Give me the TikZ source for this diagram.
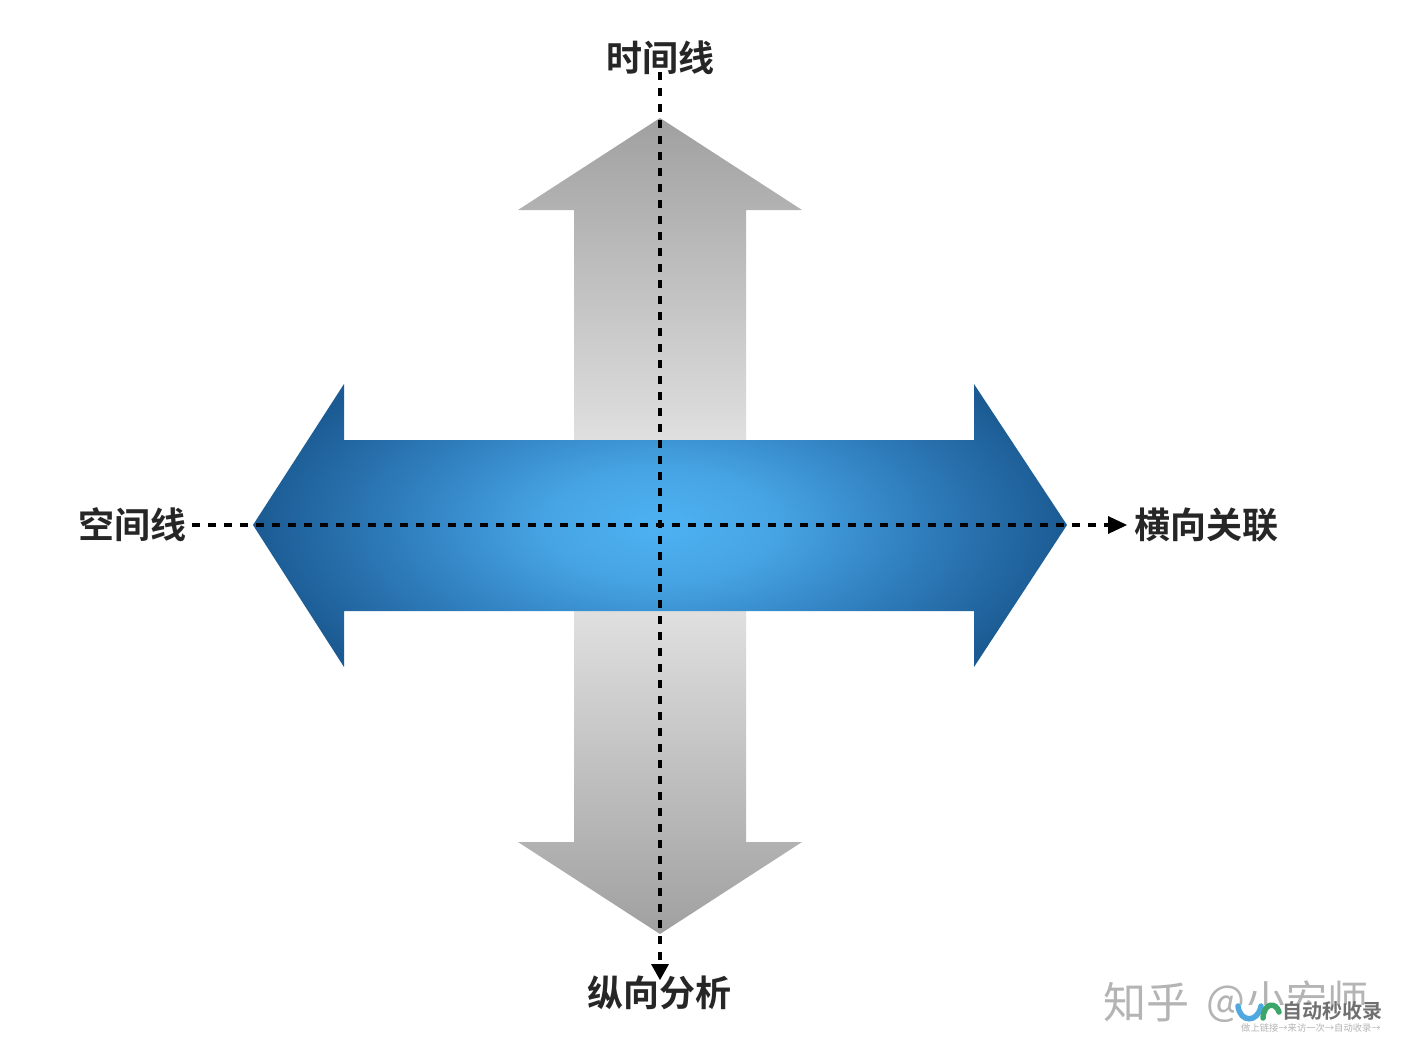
\documentclass[tikz,border=0pt]{standalone}
\usepackage{fontspec}
\setmainfont{Noto Sans CJK SC}[BoldFont={Noto Sans CJK SC Bold}]
\usetikzlibrary{arrows.meta}
\definecolor{cA}{HTML}{4DB2F2}
\definecolor{cB}{HTML}{47A4E4}
\definecolor{cC}{HTML}{2F7DBC}
\definecolor{cD}{HTML}{1B5A92}
\definecolor{gA}{HTML}{A0A0A0}
\definecolor{gB}{HTML}{F0F0F0}
\definecolor{wm}{HTML}{B4B4B4}
\definecolor{wmblue}{HTML}{4FA8E0}
\definecolor{wmgreen}{HTML}{3CA66A}
\definecolor{wmdark}{HTML}{707070}
\pgfdeclareradialshading{blueglow}{\pgfpoint{0bp}{0bp}}{
 color(0bp)=(cA); color(7bp)=(cB); color(16bp)=(cC); color(25bp)=(cD); color(50bp)=(cD)}
\pgfdeclareverticalshading{greyband}{100bp}{
 color(0bp)=(gA); color(25bp)=(gA); color(50bp)=(gB); color(75bp)=(gA); color(100bp)=(gA)}
\tikzset{
 lbl/.style={font=\fontsize{36}{36}\selectfont\bfseries, text=black!85, inner sep=0pt},
 dashline/.style={draw=black, line width=3.1pt, dash pattern=on 8pt off 8pt},
}
\begin{document}
\begin{tikzpicture}[x=1pt,y=-1pt]
\useasboundingbox (0,0) rectangle (1402,1060);
\fill[white] (0,0) rectangle (1402,1060);
% grey vertical double arrow
\begin{scope}
\clip (660,118) -- (802,210) -- (746,210) -- (746,842) -- (802,842) -- (660,934) -- (518,842) -- (574,842) -- (574,210) -- (518,210) -- cycle;
\shade[shading=greyband] (510,118) rectangle (810,934);
\end{scope}
% blue horizontal double arrow
\begin{scope}
\clip (253,525) -- (344,384) -- (344,440) -- (974,440) -- (974,384) -- (1067,525) -- (974,667) -- (974,611) -- (344,611) -- (344,667) -- cycle;
\shade[shading=blueglow] (250,325) rectangle (1070,725);
\end{scope}
% labels
\node[lbl] (top) at (660,58) {时间线};
\node[lbl] (bottom) at (659,993) {纵向分析};
\node[lbl] (left) at (132,525) {空间线};
\node[lbl] (right) at (1206,525) {横向关联};
% dashed axes
\coordinate (vs) at (660,72);
\coordinate (ve) at (660,962);
\coordinate (hs) at (192,525);
\coordinate (he) at (1108,525);
\draw[dashline] (vs) -- (ve);
\draw[dashline] (hs) -- (he);
\fill[black] (651,964) -- (669,964) -- (660,980) -- cycle;
\fill[black] (1108,516) -- (1108,534) -- (1127,525) -- cycle;
% watermark
\node[inner sep=0pt, text=wm, font=\fontsize{43}{43}\selectfont] (zh) at (1146,1002) {知乎};
\node[inner sep=0pt, text=wm, font=\fontsize{41}{41}\selectfont, anchor=west] (name) at (1206,1002) {@小宏师};
\fill[white] (1234,1005) rectangle (1385,1040);
\node[inner sep=0pt, text=wmdark, font=\fontsize{20}{20}\selectfont\bfseries, anchor=west] (auto) at (1282,1011) {自动秒收录};
\node[inner sep=0pt, text=wm, font=\fontsize{9.3}{9.3}\selectfont, anchor=west] (sub) at (1241,1028) {做上链接→来访一次→自动收录→};
\draw[wmblue, line width=5.5pt, line cap=round] (1238,1006) .. controls (1240,1023) and (1258,1023) .. (1261,1006);
\draw[wmgreen, line width=5.5pt, line cap=round] (1263,1018) .. controls (1264,1002) and (1276,1002) .. (1279,1012);
\end{tikzpicture}
\end{document}
